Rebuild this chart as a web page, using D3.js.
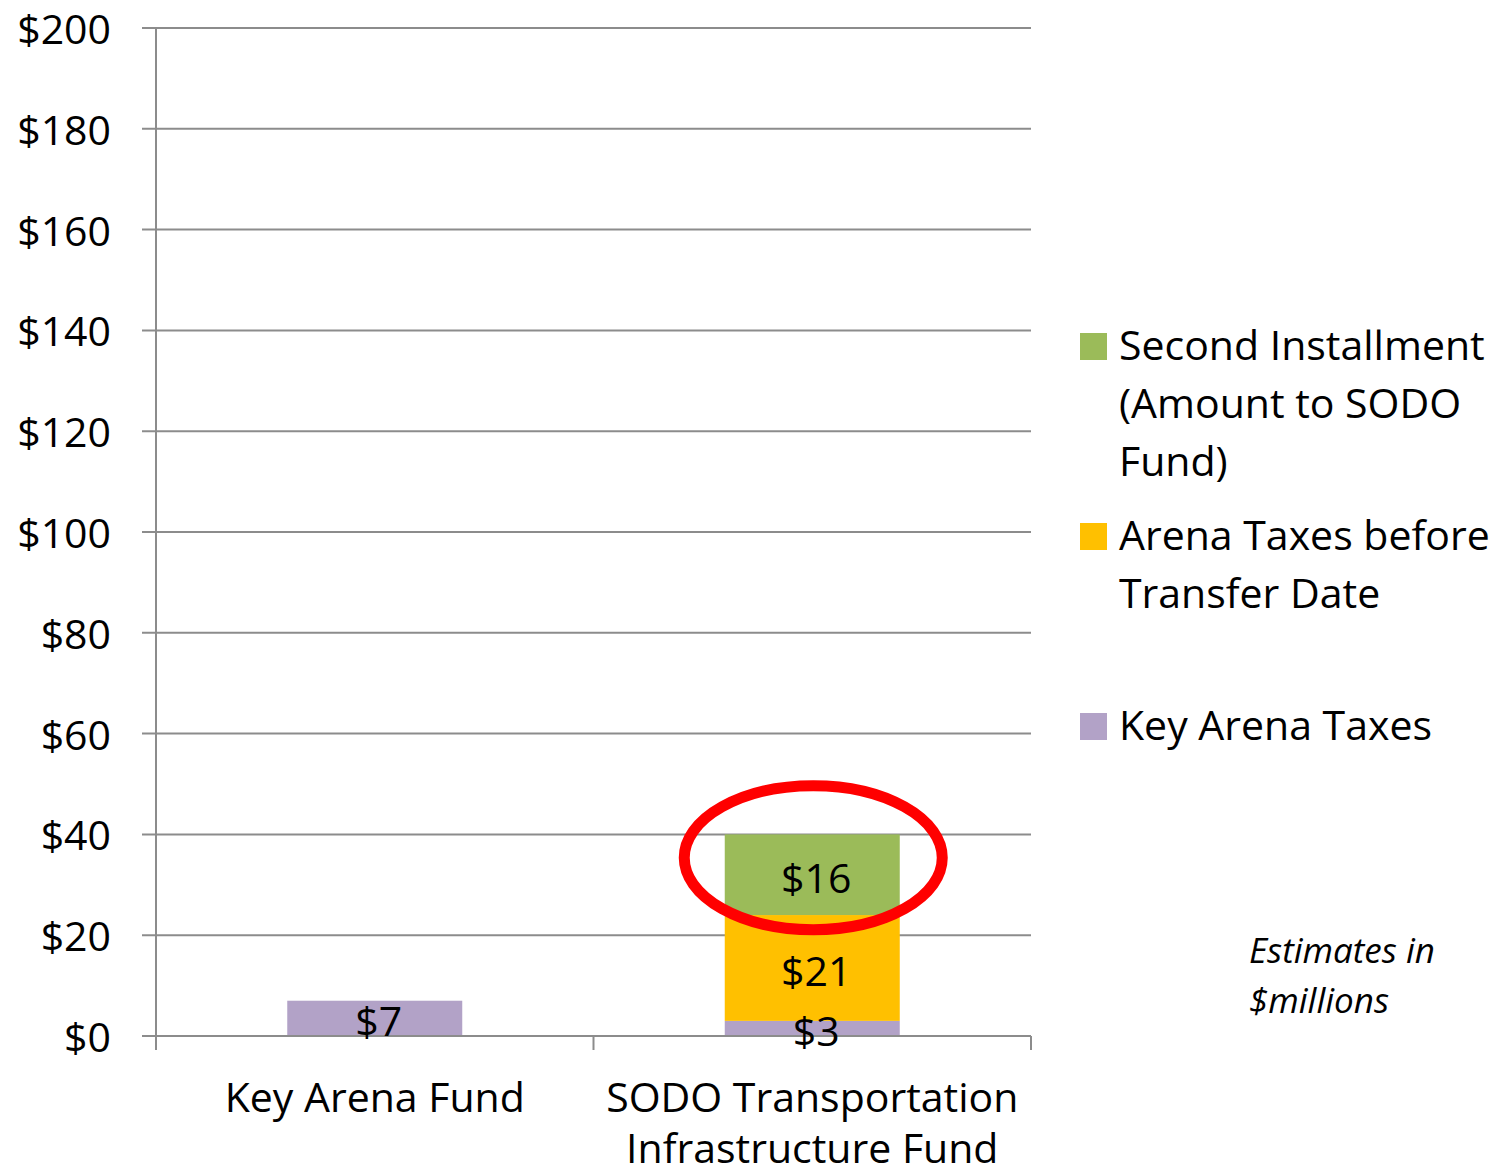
<!DOCTYPE html>
<html><head><meta charset="utf-8">
<script src="https://cdn.jsdelivr.net/npm/d3@7"></script>
<style>body{margin:0;background:#fff}svg{display:block}text{font-family:"Open Sans",Lato,sans-serif;fill:#000}</style>
</head><body><svg id="c" width="1503" height="1174"></svg>
<script>
const categories = ["Key Arena Fund", "SODO Transportation\nInfrastructure Fund"];
const seriesNames = ["Key Arena Taxes", "Arena Taxes before Transfer Date", "Second Installment (Amount to SODO Fund)"];
const keyArenaTaxes = [7, 3];
const arenaTaxesBeforeTransfer = [0, 21];
const secondInstallment = [0, 16];
const yTicks = [0, 20, 40, 60, 80, 100, 120, 140, 160, 180, 200];
const seriesColors = ["#B2A2C7", "#FFC000", "#9BBB59"];
const legendLines = [["Second Installment", "(Amount to SODO", "Fund)"], ["Arena Taxes before", "Transfer Date"], ["Key Arena Taxes"]];
const noteLines = ["Estimates in", "$millions"];

const svg = d3.select("#c");
const L = 156, R = 1031, T = 28, B = 1036;
const x = d3.scaleBand().domain(categories).range([L, R]).paddingInner(0.6).paddingOuter(0.3);
const y = d3.scaleLinear().domain([0, 200]).range([B, T]);
const gridColor = "#8c8c8c";
const FS = "41px";

svg.append("g").selectAll("line").data(yTicks).join("line")
  .attr("x1", L - 14).attr("x2", R).attr("y1", d => y(d)).attr("y2", d => y(d))
  .attr("stroke", gridColor).attr("stroke-width", 2);
svg.append("line").attr("x1", L).attr("x2", L).attr("y1", T).attr("y2", B + 14).attr("stroke", gridColor).attr("stroke-width", 2);
svg.append("g").selectAll("text").data(yTicks).join("text")
  .attr("x", 111).attr("y", d => y(d) + 16).attr("text-anchor", "end")
  .style("font-size", "41px").text(d => "$" + d);

const rows = categories.map((c, i) => ({cat: c, s0: keyArenaTaxes[i], s1: arenaTaxesBeforeTransfer[i], s2: secondInstallment[i]}));
const stack = d3.stack().keys(["s0", "s1", "s2"])(rows);
stack.forEach((layer, li) => {
  svg.append("g").selectAll("rect").data(layer.filter(d => d[1] - d[0] > 0)).join("rect")
    .attr("x", d => x(d.data.cat)).attr("width", x.bandwidth())
    .attr("y", d => y(d[1])).attr("height", d => y(d[0]) - y(d[1]))
    .attr("fill", seriesColors[li]);
});
svg.append("line").attr("x1", L).attr("x2", R).attr("y1", B).attr("y2", B).attr("stroke", gridColor).attr("stroke-width", 2);
const xTickPos = [L, (L + R) / 2, R];
svg.append("g").selectAll("line").data(xTickPos).join("line")
  .attr("x1", d => d).attr("x2", d => d).attr("y1", B).attr("y2", B + 14)
  .attr("stroke", gridColor).attr("stroke-width", 2);

const topCat = categories[1];
svg.append("ellipse")
  .attr("cx", x(topCat) + x.bandwidth() / 2 + 1)
  .attr("cy", y(keyArenaTaxes[1] + arenaTaxesBeforeTransfer[1] + secondInstallment[1] / 2) - 17)
  .attr("rx", 129).attr("ry", 72)
  .attr("fill", "none").attr("stroke", "#FF0000").attr("stroke-width", 11);

stack.forEach((layer, li) => {
  svg.append("g").selectAll("text").data(layer.filter(d => d[1] - d[0] > 0)).join("text")
    .attr("x", d => x(d.data.cat) + x.bandwidth() / 2 + 4)
    .attr("y", d => y((d[0] + d[1]) / 2) + 18)
    .attr("text-anchor", "middle").style("font-size", FS)
    .text(d => "$" + (d[1] - d[0]));
});

categories.forEach(c => {
  const lines = c.split("\n");
  const t = svg.append("text").attr("text-anchor", "middle").style("font-size", FS);
  lines.forEach((ln, i) => t.append("tspan").attr("x", x(c) + x.bandwidth() / 2).attr("y", 1112 + i * 51).text(ln));
});

const legendY = [360, 550, 740];
const legendColorIdx = [2, 1, 0];
legendLines.forEach((lines, i) => {
  svg.append("rect").attr("x", 1080).attr("y", legendY[i] - 27).attr("width", 27).attr("height", 27)
    .attr("fill", seriesColors[legendColorIdx[i]]);
  const t = svg.append("text").style("font-size", FS);
  lines.forEach((ln, j) => t.append("tspan").attr("x", 1119).attr("y", legendY[i] + j * 58).text(ln));
});

const note = svg.append("text").style("font-size", "35px").style("font-style", "italic");
noteLines.forEach((ln, j) => note.append("tspan").attr("x", 1249).attr("y", 963 + j * 50).text(ln));
</script></body></html>
